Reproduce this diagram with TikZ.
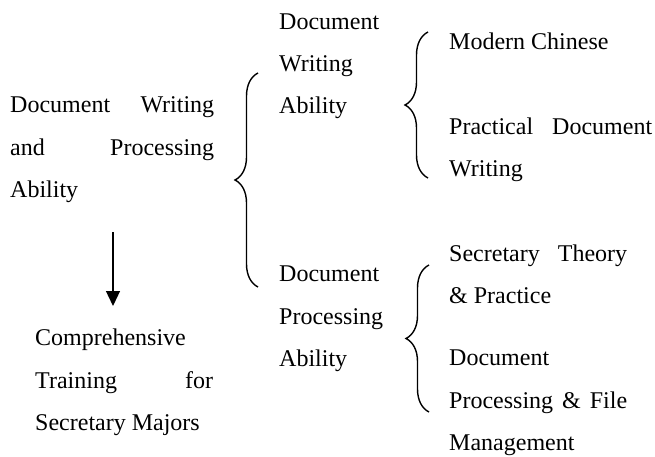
\documentclass[tikz,border=0pt]{standalone}
\usepackage{fontspec}
\setmainfont{Liberation Serif}
\usetikzlibrary{decorations.pathreplacing,arrows.meta}
\begin{document}
\begin{tikzpicture}[x=1pt,y=-1pt,
  txt/.style={anchor=base west,inner sep=0pt,align=left,font=\fontsize{24}{42.3}\selectfont},
  bracestyle/.style={decorate,decoration={brace,amplitude=23pt},line width=1.4pt},
  arrowstyle/.style={-{Triangle[length=15pt,width=14pt]},line width=1.3pt}]
\useasboundingbox (0,0) rectangle (655,457);
% anchors are at the baseline of each node's last line
\node[txt] (main) at (10,197.5) {\hbox to 204pt{Document\hfil Writing}\\ \hbox to 204pt{and\hfil Processing}\\ Ability};
\node[txt] (mw) at (279,113.8) {Document\\ Writing\\ Ability};
\node[txt] (mp) at (279,366.5) {Document\\ Processing\\ Ability};
\node[txt] (rc) at (449,49.5) {Modern Chinese};
\node[txt] (rpd) at (449,176.5) {\hbox to 203pt{Practical\hfil Document}\\ Writing};
\node[txt] (rst) at (449,303.5) {\hbox to 178pt{Secretary\hfil Theory}\\ \& Practice};
\node[txt] (rdp) at (449,450.5) {Document\\ \hbox to 178pt{Processing \& File}\\ Management};
\node[txt] (ct) at (35,430.5) {Comprehensive\\ \hbox to 178pt{Training\hfil for}\\ Secretary Majors};
% braces
\coordinate (b1s) at (258,287);
\coordinate (b1e) at (258,73);
\coordinate (b2s) at (428,178);
\coordinate (b2e) at (428,32);
\coordinate (b3s) at (429,412);
\coordinate (b3e) at (429,265);
\draw[bracestyle] (b1s) -- (b1e);
\draw[bracestyle] (b2s) -- (b2e);
\draw[bracestyle] (b3s) -- (b3e);
% arrow
\coordinate (a1) at (113,232);
\coordinate (a2) at (113,306);
\draw[arrowstyle] (a1) -- (a2);
\end{tikzpicture}
\end{document}
